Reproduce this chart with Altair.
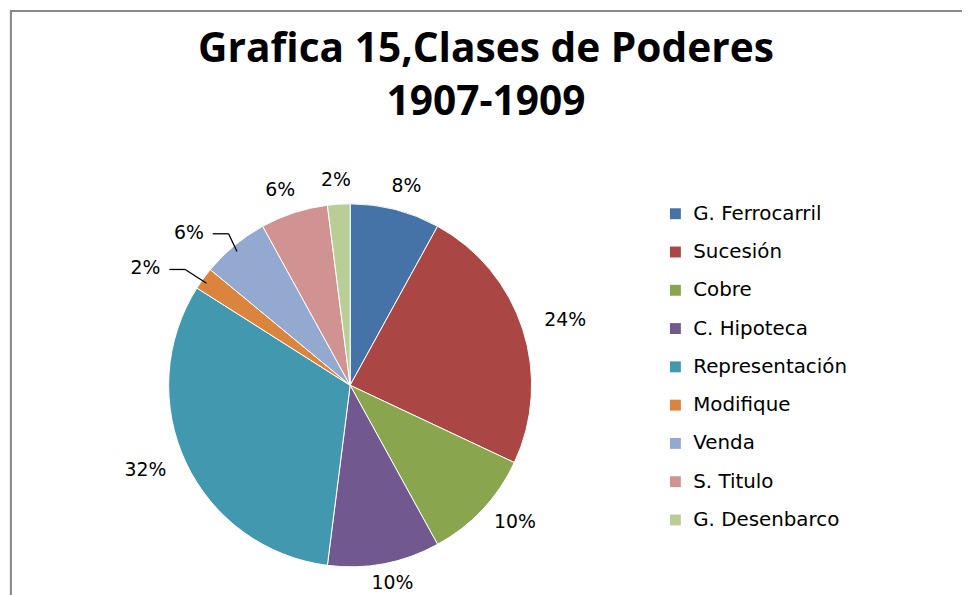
import altair as alt
import pandas as pd

categories = ["G. Ferrocarril", "Sucesión", "Cobre", "C. Hipoteca", "Representación",
              "Modifique", "Venda", "S. Titulo", "G. Desenbarco"]
percent = [8, 24, 10, 10, 32, 2, 6, 6, 2]
colors = ["#4572A7", "#AA4643", "#89A54E", "#71588F", "#4198AF",
          "#DB843D", "#93A9CF", "#D19392", "#B9CD96"]
title_lines = ["Grafica 15,Clases de Poderes", "1907-1909"]
leader_slices = ["Modifique", "Venda"]

df = pd.DataFrame({"cat": categories, "value": percent, "idx": list(range(len(categories)))})
df["label"] = [f"{v}%" for v in percent]

CX, CY = 345, 378
R = 183
LFONT = "DejaVu Sans"
lead_list = "[" + ",".join(f"'{c}'" for c in leader_slices) + "]"

base = alt.Chart(df).encode(
    theta=alt.Theta("value:Q", stack=True),
    order=alt.Order("idx:Q"),
)

pie = base.mark_arc(outerRadius=R, stroke="white", strokeWidth=1).encode(
    x=alt.value(CX), y=alt.value(CY),
    color=alt.Color("cat:N", sort=categories,
                    scale=alt.Scale(domain=categories, range=colors),
                    legend=alt.Legend(title=None, orient="none", legendX=663, legendY=195,
                                      symbolType="square", symbolSize=121, symbolStrokeWidth=0,
                                      labelFont=LFONT, labelFontSize=20, labelColor="black",
                                      labelOffset=8, rowPadding=18.6, padding=0,
                                      labelLimit=300)),
)

geo = alt.Chart(df).transform_window(
    cum="sum(value)", sort=[alt.SortField("idx")], frame=[None, 0]
).transform_joinaggregate(
    total="sum(value)"
).transform_calculate(
    mid="2*PI*(datum.cum - datum.value/2)/datum.total",
    lead=f"indexof({lead_list}, datum.cat) >= 0",
).transform_calculate(
    lx=f"{CX} + (datum.lead ? 255 : 228)*sin(datum.mid)",
    ly=f"{CY - 2} - (datum.lead ? 197 : 205)*cos(datum.mid)",
    ex=f"{CX} + {R - 4}*sin(datum.mid)",
    ey=f"{CY} - {R - 8}*cos(datum.mid)",
)

labels = geo.mark_text(font=LFONT, fontSize=19, color="black",
                       align="center", baseline="middle").encode(
    x=alt.X("lx:Q", scale=None, axis=None),
    y=alt.Y("ly:Q", scale=None, axis=None),
    text="label:N",
)

leaders = geo.transform_filter("datum.lead")
lead_h = leaders.transform_calculate(
    hx1="datum.lx + 24", hx2="datum.lx + 40", hy="datum.ly + 1"
).mark_rule(color="black", strokeWidth=1.3).encode(
    x=alt.X("hx1:Q", scale=None), x2="hx2:Q", y=alt.Y("hy:Q", scale=None))
lead_d = leaders.transform_calculate(
    hx2="datum.lx + 40", hy="datum.ly + 1"
).mark_rule(color="black", strokeWidth=1.3).encode(
    x=alt.X("hx2:Q", scale=None), x2="ex:Q",
    y=alt.Y("hy:Q", scale=None), y2="ey:Q")

tdf = pd.DataFrame({"t": title_lines, "row": [0, 1]})
title = alt.Chart(tdf).mark_text(font="Open Sans", fontWeight="bold", fontSize=41, color="black",
                                 baseline="alphabetic", align="center").encode(
    text="t:N",
    x=alt.value(482),
    y=alt.Y("row:Q", scale=alt.Scale(domain=[0, 1], range=[52, 105]), axis=None),
)

left_border = alt.Chart(df).mark_rule(color="#8a8a8a", strokeWidth=2).encode(
    x=alt.value(3), y=alt.value(0), y2=alt.value(600))
top_border = alt.Chart(df).mark_rule(color="#8a8a8a", strokeWidth=2).encode(
    x=alt.value(2), x2=alt.value(970), y=alt.value(0.5))

chart = alt.layer(left_border, top_border, pie, lead_h, lead_d, labels, title).properties(
    width=962, height=587,
    autosize=alt.AutoSizeParams(type="none"),
    padding=0,
).configure_view(stroke=None)

chart.save("out.html", embed_options={"renderer": "svg", "actions": False})
